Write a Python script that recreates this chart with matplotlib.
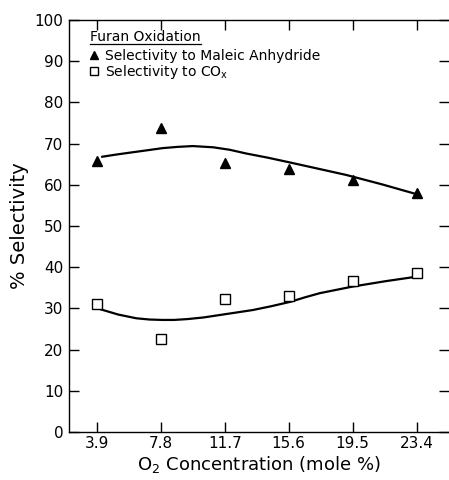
import numpy as np
import matplotlib.pyplot as plt
from matplotlib.lines import Line2D

# --- Data ---
O2_CONC = [3.9, 7.8, 11.7, 15.6, 19.5, 23.4]
SEL_MALEIC = [65.8, 73.8, 65.3, 63.8, 61.2, 58.0]
SEL_COX = [31.1, 22.6, 32.3, 33.0, 36.7, 38.6]

# hand-drawn fit curves
CURVE_MA_X = [4.2, 5.0, 5.9, 7.0, 7.9, 8.8, 9.75, 11.0, 12.0, 13.0, 14.3, 15.7, 17.4, 19.1, 21.3, 23.6]
CURVE_MA_Y = [66.8, 67.3, 67.8, 68.4, 68.9, 69.2, 69.4, 69.1, 68.5, 67.6, 66.6, 65.4, 63.9, 62.4, 60.1, 57.5]
CURVE_CO_X = [4.1, 5.2, 6.3, 7.1, 7.9, 8.6, 9.4, 10.4, 11.4, 12.4, 13.4, 14.5, 15.7, 16.6, 17.5, 18.5, 19.5, 21.5, 23.4]
CURVE_CO_Y = [29.8, 28.5, 27.6, 27.3, 27.2, 27.2, 27.4, 27.8, 28.4, 29.0, 29.6, 30.5, 31.6, 32.7, 33.7, 34.5, 35.3, 36.6, 37.7]

Y_TICKS = list(range(0, 101, 10))

fig = plt.figure(figsize=(4.49, 4.8), dpi=100)
ax = fig.add_axes([69 / 449, 48 / 480, 380 / 449, 412 / 480])

ax.plot(CURVE_MA_X, CURVE_MA_Y, "-", color="black", linewidth=1.6, solid_capstyle="round")
ax.plot(CURVE_CO_X, CURVE_CO_Y, "-", color="black", linewidth=1.6, solid_capstyle="round")
ax.plot(O2_CONC, SEL_MALEIC, "^", color="black", markersize=7.5, linestyle="none",
        label="Selectivity to Maleic Anhydride")
ax.plot(O2_CONC, SEL_COX, "s", markerfacecolor="white", markeredgecolor="black",
        markeredgewidth=1.0, markersize=7, linestyle="none",
        label=r"Selectivity to CO$_\mathrm{x}$")

ax.set_xlim(2.19, 25.38)
ax.set_ylim(0, 100)
ax.set_xticks(O2_CONC)
ax.set_xticklabels([f"{v:.1f}" for v in O2_CONC])
ax.set_yticks(Y_TICKS)
ax.set_yticklabels([str(v) for v in Y_TICKS])

ax.tick_params(axis="both", direction="in", length=7, width=1.0, labelsize=11, pad=3,
               top=True, right=True)
ax.tick_params(axis="y", pad=4)
ax.tick_params(axis="y", which="major", right=True)
ax.spines["right"].set_visible(False)
for s in ["left", "bottom", "top"]:
    ax.spines[s].set_linewidth(1.0)

ax.set_ylabel("% Selectivity", fontsize=14, labelpad=4)
ax.set_xlabel("O$_2$ Concentration (mole %)", fontsize=13, labelpad=2)

title = ax.text(0.055, 0.949, "Furan Oxidation", transform=ax.transAxes,
                fontsize=10, ha="left", va="baseline")
leg = ax.legend(loc="upper left", bbox_to_anchor=(0.052, 0.93), frameon=False,
                fontsize=10, handlelength=0.7, handletextpad=0.5, labelspacing=0.0,
                borderpad=0.0, borderaxespad=0.0, markerscale=0.85)

# underline the title
fig.canvas.draw()
bb = title.get_window_extent().transformed(fig.transFigure.inverted())
fig.add_artist(Line2D([bb.x0, bb.x1], [bb.y0 + 0.001, bb.y0 + 0.001],
                      transform=fig.transFigure, color="black", linewidth=0.9))

fig.savefig("out.png", dpi=100)
